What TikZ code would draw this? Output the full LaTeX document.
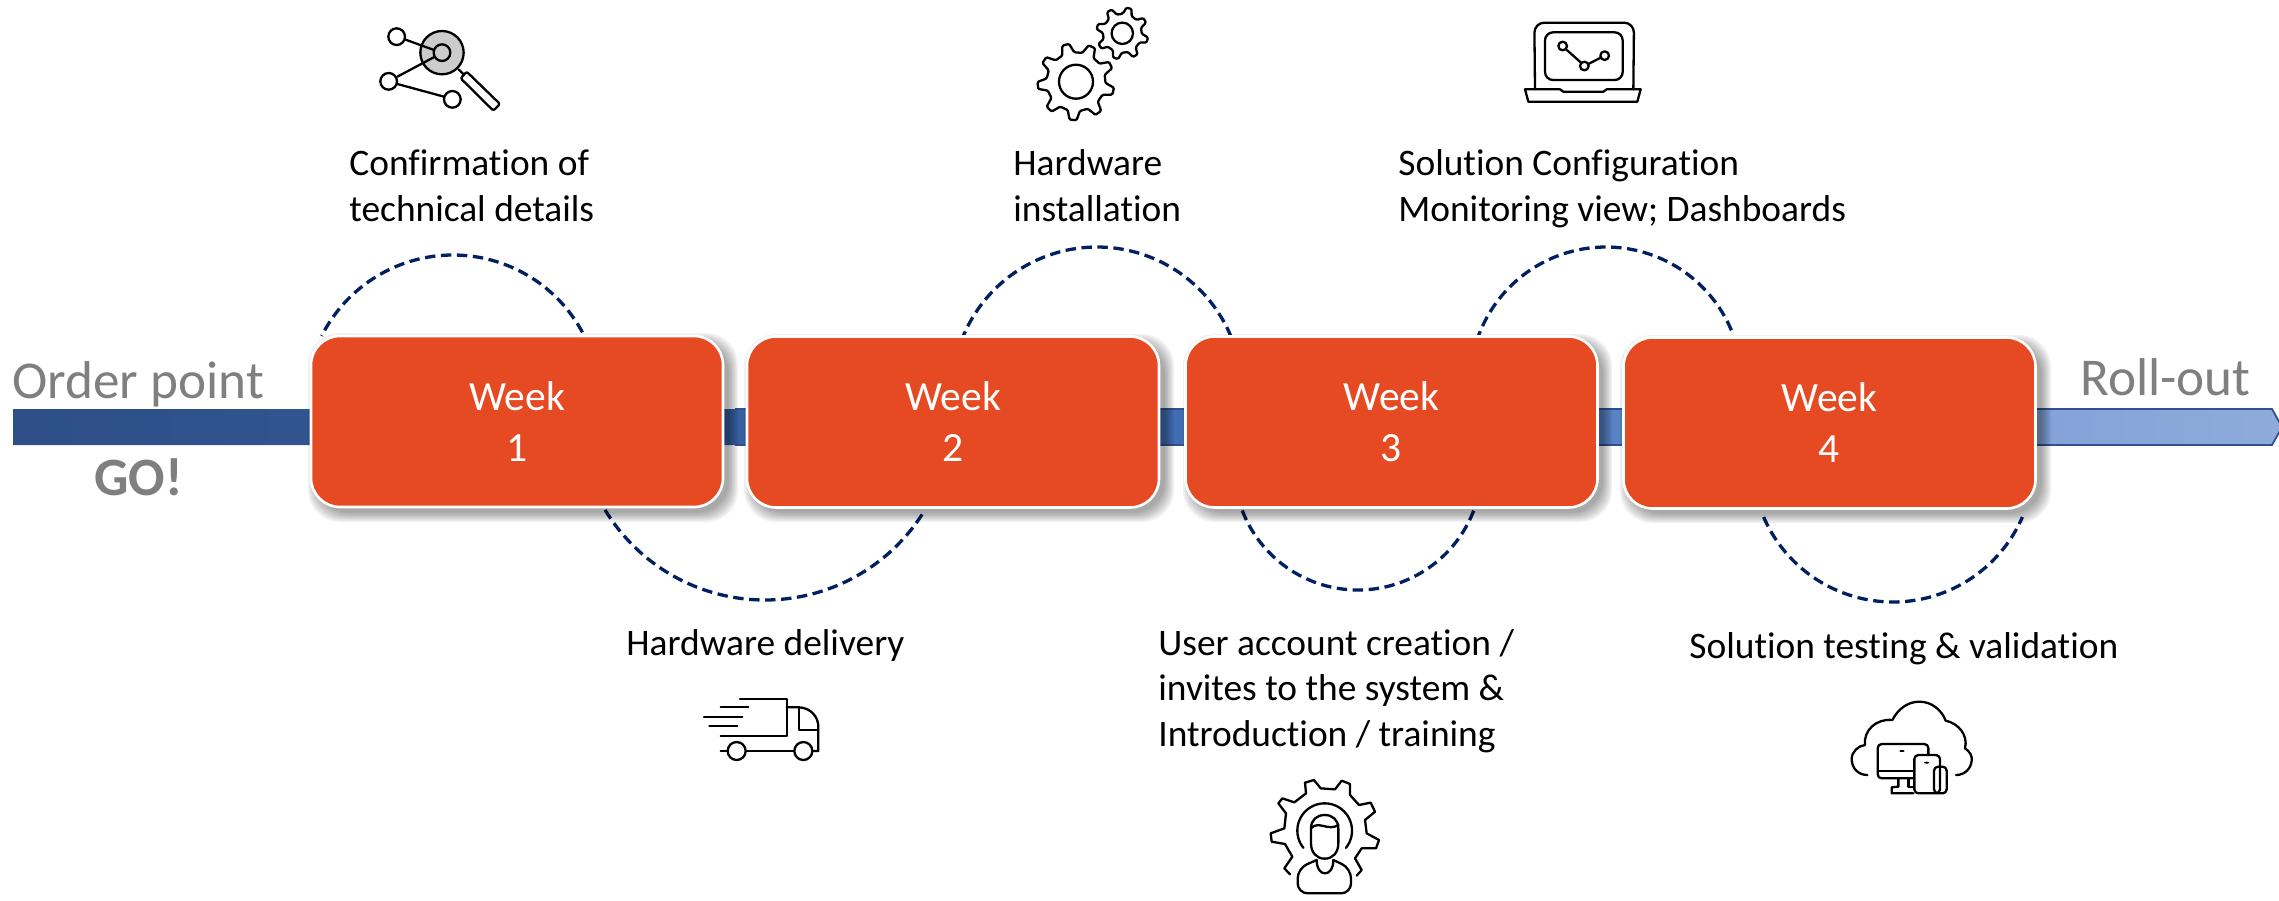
\documentclass[tikz,border=0pt]{standalone}
\usepackage{fontspec}
\setmainfont[Ligatures=NoCommon]{Carlito}
\pgfdeclarehorizontalshading{barshade}{100bp}{
 rgb(0bp)=(0.18,0.31,0.53);
 rgb(25bp)=(0.18,0.31,0.53);
 rgb(36bp)=(0.20,0.34,0.58);
 rgb(42bp)=(0.22,0.38,0.64);
 rgb(58bp)=(0.30,0.47,0.75);
 rgb(65bp)=(0.45,0.60,0.82);
 rgb(70bp)=(0.52,0.64,0.85);
 rgb(75bp)=(0.56,0.67,0.86);
 rgb(100bp)=(0.56,0.67,0.86)}
\definecolor{boxred}{HTML}{E64A23}
\definecolor{arcnavy}{HTML}{002060}
\definecolor{txtgray}{HTML}{7F7F7F}
\definecolor{baredge}{HTML}{2F528F}
\tikzset{
 weekbox/.style={fill=boxred,draw=white,line width=1.3pt,rounded corners=14.5pt,minimum width=206pt,minimum height=85.5pt,text=white,align=center,inner sep=0pt,font=\fontsize{20.8}{25.5}\selectfont},
 shadowlayer/.style={fill=black,fill opacity=0.055,draw=none},
 dasharc/.style={draw=arcnavy,line width=1.65pt,dash pattern=on 5.2pt off 2.8pt},
 steplabel/.style={anchor=base west,align=left,inner sep=0pt,text=black,font=\fontsize{18.7}{22.6}\selectfont},
 graylabel/.style={anchor=base west,inner sep=0pt,text=txtgray,font=\fontsize{26.6}{30}\selectfont},
 iconline/.style={draw=black,line width=1.15pt,line join=round,line cap=round},
}
\newcommand{\weekshadow}[4]{% x1 y1 x2 y2
 \foreach \g in {0,1.5,...,9}{
  \fill[shadowlayer,rounded corners=16pt] (#1+6-\g,#2+6-\g) rectangle (#3+6+\g,#4+6+\g);
 }
}
\newcommand{\dashedarc}[5]{% cx cy r a b
 \draw[dasharc] plot[domain=#4:#5,samples=90] ({#1+#3*cos(\x)},{#2-#3*sin(\x)});
}
\newcommand{\geartool}[6]{% cx cy router rroot n phase
 \draw[iconline,rounded corners=0.6pt] ({#1+#4*cos(#6-0.30*360/#5)},{#2+#4*sin(#6-0.30*360/#5)})
 \foreach \k in {1,...,#5}{
  -- ({#1+#3*cos(#6+(\k-1)*360/#5-0.13*360/#5)},{#2+#3*sin(#6+(\k-1)*360/#5-0.13*360/#5)})
  -- ({#1+#3*cos(#6+(\k-1)*360/#5+0.13*360/#5)},{#2+#3*sin(#6+(\k-1)*360/#5+0.13*360/#5)})
  -- ({#1+#4*cos(#6+(\k-1)*360/#5+0.30*360/#5)},{#2+#4*sin(#6+(\k-1)*360/#5+0.30*360/#5)})
  -- ({#1+#4*cos(#6+\k*360/#5-0.30*360/#5)},{#2+#4*sin(#6+\k*360/#5-0.30*360/#5)})
 } -- cycle;
}
\begin{document}
\begin{tikzpicture}[x=0.5pt,y=-0.5pt]
\useasboundingbox (0,0) rectangle (2279,900);
\fill[white] (0,0) rectangle (2279,900);

% timeline bar
\path[shade,shading=barshade,draw=none] (13,409) -- (2272,409) -- (2282,427) -- (2272,445) -- (13,445) -- cycle;
\draw[baredge,line width=0.9pt] (735,409) -- (2272,409) -- (2282,427) -- (2272,445) -- (735,445);

% dashed arcs
\dashedarc{453}{402}{147}{28.3}{153.3}
\dashedarc{765}{413}{187}{211.2}{328.6}
\dashedarc{1097}{392}{145}{22.5}{157.8}
\dashedarc{1358}{466}{124}{201}{339.4}
\dashedarc{1606}{383}{136}{22.8}{160.2}
\dashedarc{1893}{461}{141}{203.4}{336.6}

% week boxes
\weekshadow{311}{336}{723}{507}
\node[weekbox] (w1) at (517,421.5) {Week\\1};
\weekshadow{747}{337}{1159}{507}
\node[weekbox] (w2) at (953,422) {Week\\2};
\weekshadow{1186}{337}{1597}{507}
\node[weekbox] (w3) at (1391.5,422) {Week\\3};
\weekshadow{1623}{338}{2036}{508}
\node[weekbox] (w4) at (1829.5,423) {Week\\4};

% gray labels
\node[graylabel] (order) at (12,398) {Order point};
\node[graylabel] (roll) at (2080,395) {Roll-out};
\node[graylabel,font=\fontsize{27}{30}\selectfont\bfseries] (go) at (94,495) {GO!};

% step labels (the base of a multi-line node is its last line)
\node[steplabel] (s1) at (349,221) {Confirmation of\\technical details};
\node[steplabel] (s3) at (1013,221) {Hardware\\installation};
\node[steplabel] (s5) at (1398,221) {Solution Configuration\\Monitoring view; Dashboards};
\node[steplabel] (s2) at (626,655) {Hardware delivery};
\node[steplabel] (s4) at (1158,746) {User account creation /\\invites to the system \&\\Introduction / training};
\node[steplabel] (s6) at (1689,658) {Solution testing \& validation};

% icon: magnifier network
\begin{scope}[shift={(320,0)},scale=1/3]
 \draw[iconline,fill=black!20] (366,158) circle[radius=65];
 \draw[iconline] (254,118) -- (342,150);
 \draw[iconline] (232,230) -- (345,170);
 \draw[iconline] (232,252) -- (372,290);
 \draw[iconline] (366,158) circle[radius=25];
 \draw[iconline,fill=white] (230,110) circle[radius=25];
 \draw[iconline,fill=white] (206,244) circle[radius=25];
 \draw[iconline,fill=white] (397,298) circle[radius=25];
 \draw[iconline] (416,208) -- (430,222);
 \draw[iconline,rounded corners=1pt] (440,215) -- (540,312) -- (520,332) -- (422,235) -- cycle;
\end{scope}

% icon: gears
\geartool{1076}{81.7}{38.5}{29.5}{9}{-105.6}
\draw[iconline] (1076,81.7) circle[radius=17];
\geartool{1122.3}{33.3}{26}{19.5}{8}{-75}
\draw[iconline] (1122.3,33.3) circle[radius=10.7];

% icon: laptop
\begin{scope}[shift={(1500,10)},scale=1/3]
 \draw[iconline,rounded corners=5pt] (105,238) -- (103,38) -- (402,38) -- (400,238);
 \draw[iconline,rounded corners=4pt] (135,67) rectangle (368,210);
 \draw[iconline] (198,118) -- (243,158);
 \draw[iconline] (265,162) -- (302,143);
 \draw[iconline] (188,108) circle[radius=13];
 \draw[iconline] (253,168) circle[radius=13];
 \draw[iconline] (314,137) circle[radius=13];
 \draw[iconline] (75,238) -- (180,238) -- (190,245) -- (310,245) -- (320,238) -- (422,238) -- (412,275) -- (85,275) -- cycle;
\end{scope}

% icon: truck
\begin{scope}[shift={(680,680)},scale=1/3]
 \draw[iconline] (180,57) -- (320,57) -- (320,167) -- (122,167);
 \draw[iconline] (122,82) -- (205,82);
 \draw[iconline] (72,112) -- (187,112);
 \draw[iconline] (88,138) -- (172,138);
 \draw[iconline] (320,82) -- (358,82) .. controls (392,84) and (415,110) .. (415,140) -- (415,213) -- (398,213);
 \draw[iconline] (358,82) -- (358,150) -- (415,150);
 \draw[iconline] (122,213) -- (143,213);
 \draw[iconline] (198,213) -- (343,213);
 \draw[iconline] (170,213) circle[radius=27];
 \draw[iconline] (370,213) circle[radius=27];
\end{scope}

% icon: person in gear
\begin{scope}[shift={(1250,760)},scale=1/3]
 \draw[iconline] (120,343) -- (103,325) -- (127,290) -- (105,252) -- (65,245) -- (62,220) -- (103,205) -- (108,160) -- (85,130) -- (97,115) -- (133,127) -- (168,100) -- (165,68) -- (192,60) -- (212,85) -- (255,88) -- (275,62) -- (300,72) -- (300,105) -- (327,135) -- (362,128) -- (375,155) -- (345,180) -- (350,220) -- (387,240) -- (378,265) -- (335,265) -- (315,295) -- (335,330) -- (320,347);
 \draw[iconline] plot[domain=-219:39,samples=60] ({224+82*cos(\x)},{212+82*sin(\x)});
 \draw[iconline] (183,205) -- (183,250) .. controls (183,278) and (200,296) .. (224,296) .. controls (248,296) and (265,278) .. (265,250) -- (265,205) .. controls (265,180) and (248,165) .. (224,165) .. controls (200,165) and (183,180) .. (183,205);
 \draw[iconline] (183,205) .. controls (205,180) and (235,215) .. (265,195);
 \draw[iconline,rounded corners=5pt] (200,300) -- (143,325) -- (143,400) -- (303,400) -- (303,325) -- (250,300);
 \draw[iconline] (200,300) .. controls (200,325) and (210,340) .. (225,340) .. controls (240,340) and (250,325) .. (250,300);
\end{scope}

% icon: cloud and devices
\begin{scope}[shift={(1830,680)},scale=1/3]
 \draw[iconline] (112,285) .. controls (85,285) and (65,265) .. (65,237) .. controls (65,215) and (85,197) .. (105,195) .. controls (100,150) and (140,115) .. (187,120) .. controls (205,85) and (235,65) .. (268,65) .. controls (305,65) and (335,90) .. (347,122) .. controls (385,130) and (415,165) .. (405,205) .. controls (420,215) and (427,228) .. (425,242) .. controls (423,265) and (405,285) .. (378,285);
 \draw[iconline,rounded corners=2pt] (295,225) -- (295,192) -- (143,192) -- (143,295) -- (250,295);
 \draw[iconline] (143,272) -- (250,272);
 \fill (216,213) ellipse[x radius=8,y radius=3];
 \draw[iconline] (205,295) -- (205,320) -- (185,322) -- (185,340) -- (250,340);
 \draw[iconline] (235,295) -- (235,320) -- (250,320);
 \draw[iconline,rounded corners=2pt] (253,225) rectangle (330,340);
 \fill (290,248) ellipse[x radius=8,y radius=3];
 \draw[iconline,rounded corners=2pt] (312,260) rectangle (350,340);
\end{scope}
\end{tikzpicture}
\end{document}
